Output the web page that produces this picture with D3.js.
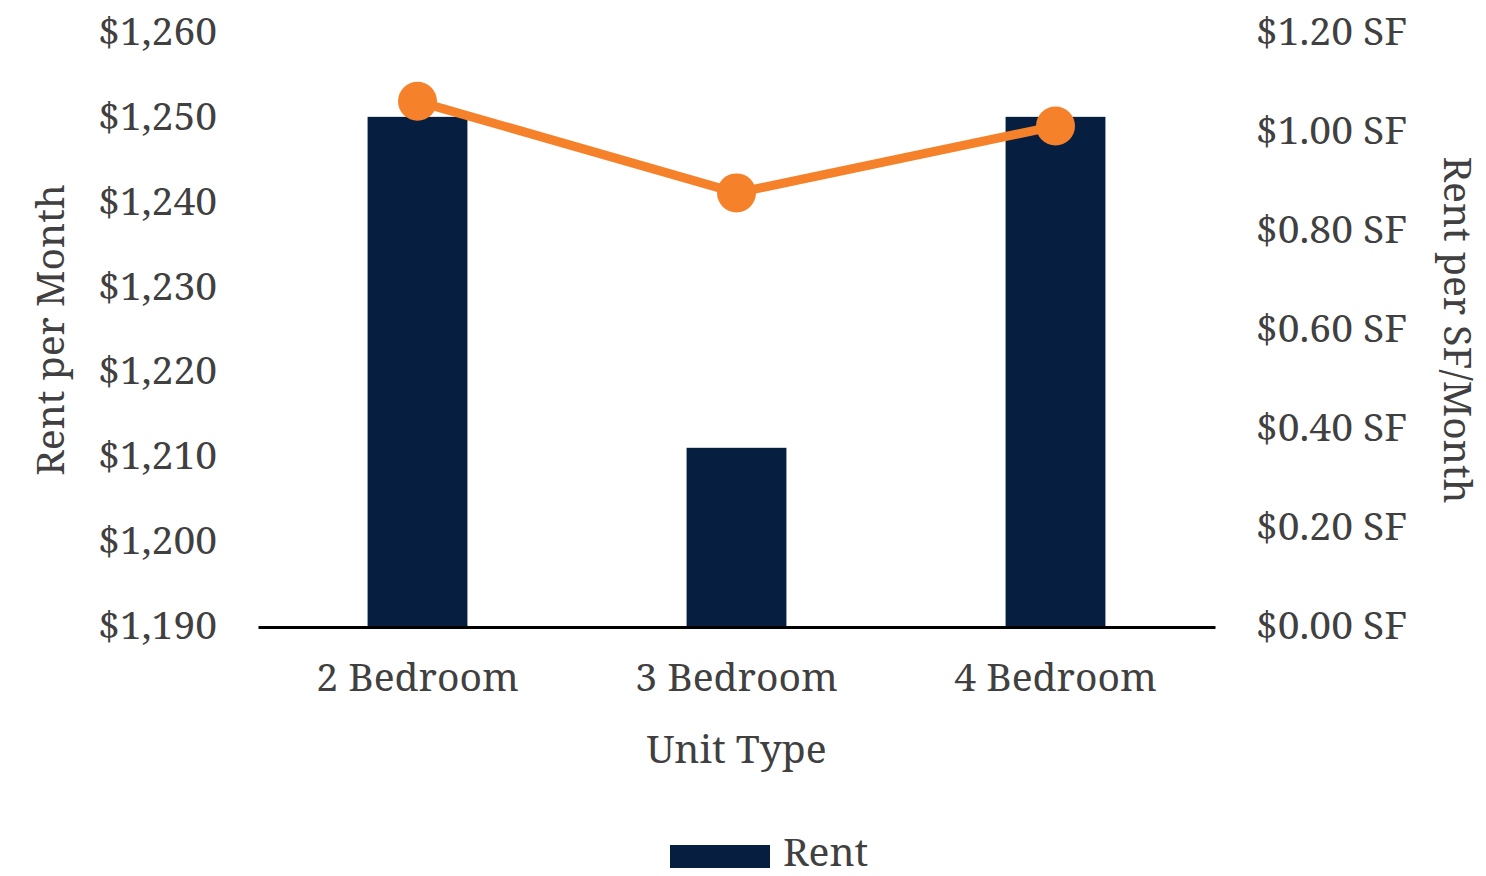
<!DOCTYPE html>
<html lang="en">
<head>
    <meta charset="UTF-8">
    <title>Rent by Unit Type</title>
    <style>
        body {
            margin: 0;
            padding: 0;
            background: #fff;
        }
        svg text {
            font-family: "Noto Serif", "DejaVu Serif", serif;
            fill: #404040;
        }
    </style>
</head>
<body>
<svg id="chart"></svg>

<script src="https://d3js.org/d3.v7.min.js"></script>
<script>
    // data
    var unitTypes = ["2 Bedroom", "3 Bedroom", "4 Bedroom"];
    var rent = [1250, 1211, 1250];
    var rentPerSF = [1.06, 0.875, 1.01];
    var leftTicks = [1190, 1200, 1210, 1220, 1230, 1240, 1250, 1260];
    var rightTicks = [0, 0.2, 0.4, 0.6, 0.8, 1.0, 1.2];

    var width = 1486, height = 876;
    var plot = { left: 258, right: 1215, top: 32, bottom: 626 };

    var svg = d3.select("#chart")
        .attr("width", width)
        .attr("height", height);

    var x = d3.scaleBand()
        .domain(unitTypes)
        .range([plot.left, plot.right])
        .padding(0);

    var y = d3.scaleLinear()
        .domain([1190, 1260])
        .range([plot.bottom, plot.top]);

    var y2 = d3.scaleLinear()
        .domain([0, 1.2])
        .range([plot.bottom, plot.top]);

    var barW = x.step() * 0.313;
    var fontSize = 39;

    // bars
    svg.selectAll("rect.bar")
        .data(rent)
        .enter().append("rect")
        .attr("class", "bar")
        .attr("x", (d, i) => x(unitTypes[i]) + x.bandwidth() / 2 - barW / 2)
        .attr("y", d => y(d))
        .attr("width", barW)
        .attr("height", d => y(1190) - y(d))
        .attr("fill", "#061f40");

    // left axis
    var leftAxis = svg.append("g")
        .attr("transform", "translate(" + plot.left + ",0)")
        .call(d3.axisLeft(y).tickValues(leftTicks).tickSize(0).tickPadding(41)
            .tickFormat(d => "$" + d3.format(",")(d)));
    leftAxis.select(".domain").remove();

    // right axis
    var rightAxis = svg.append("g")
        .attr("transform", "translate(" + plot.right + ",0)")
        .call(d3.axisRight(y2).tickValues(rightTicks).tickSize(0).tickPadding(41)
            .tickFormat(d => "$" + d3.format(".2f")(d) + " SF"));
    rightAxis.select(".domain").remove();

    svg.selectAll(".tick text")
        .attr("font-size", fontSize)
        .attr("fill", "#404040")
        .style("font-family", null);

    // bottom axis
    var bottomAxis = svg.append("g")
        .attr("transform", "translate(0," + (plot.bottom + 1) + ")")
        .call(d3.axisBottom(x).tickSize(0).tickPadding(36));
    bottomAxis.select(".domain")
        .attr("stroke", "#000")
        .attr("stroke-width", 3);
    bottomAxis.selectAll("text")
        .attr("font-size", fontSize)
        .attr("fill", "#404040");

    // line + markers
    var line = d3.line()
        .x((d, i) => x(unitTypes[i]) + x.bandwidth() / 2)
        .y(d => y2(d));

    svg.append("path")
        .datum(rentPerSF)
        .attr("d", line)
        .attr("fill", "none")
        .attr("stroke", "#f5822a")
        .attr("stroke-width", 9);

    svg.selectAll("circle.pt")
        .data(rentPerSF)
        .enter().append("circle")
        .attr("class", "pt")
        .attr("cx", (d, i) => x(unitTypes[i]) + x.bandwidth() / 2)
        .attr("cy", d => y2(d))
        .attr("r", 19.5)
        .attr("fill", "#f5822a");

    // axis titles
    svg.append("text")
        .attr("transform", "translate(64,330) rotate(-90)")
        .attr("text-anchor", "middle")
        .attr("font-size", fontSize)
        .text("Rent per Month");

    svg.append("text")
        .attr("transform", "translate(1444,330) rotate(90)")
        .attr("text-anchor", "middle")
        .attr("font-size", fontSize)
        .text("Rent per SF/Month");

    svg.append("text")
        .attr("x", (plot.left + plot.right) / 2)
        .attr("y", 763)
        .attr("text-anchor", "middle")
        .attr("font-size", fontSize)
        .text("Unit Type");

    // legend
    svg.append("rect")
        .attr("x", 670)
        .attr("y", 845)
        .attr("width", 100)
        .attr("height", 23)
        .attr("fill", "#061f40");

    svg.append("text")
        .attr("x", 783)
        .attr("y", 866)
        .attr("font-size", fontSize)
        .text("Rent");
</script>
</body>
</html>
